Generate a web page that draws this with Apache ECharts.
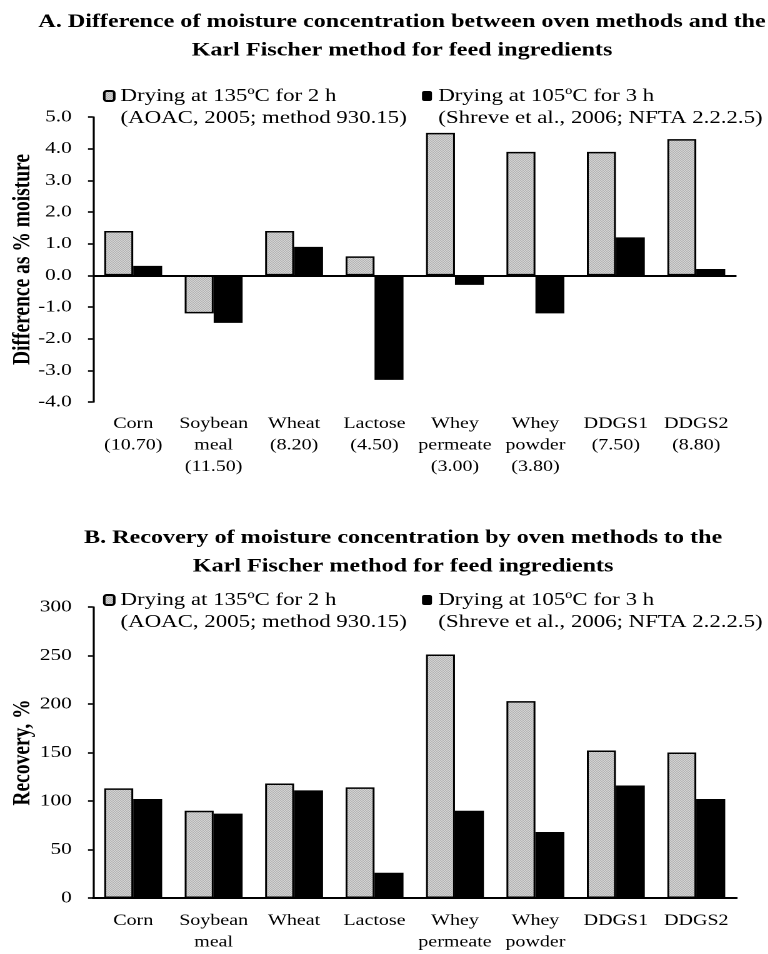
<!DOCTYPE html>
<html><head><meta charset="utf-8">
<script src="https://cdn.jsdelivr.net/npm/echarts@6/dist/echarts.min.js"></script>
<style>
html,body{margin:0;padding:0;background:#fff;overflow:hidden}
#main{width:614.4px;height:954px;transform:scaleX(1.25);transform-origin:0 0;}
</style>
</head><body><div id="main"></div>
<script>
const categoriesA = ['Corn\n(10.70)', 'Soybean\nmeal\n(11.50)', 'Wheat\n(8.20)', 'Lactose\n(4.50)', 'Whey\npermeate\n(3.00)', 'Whey\npowder\n(3.80)', 'DDGS1\n(7.50)', 'DDGS2\n(8.80)'];
const categoriesB = ['Corn', 'Soybean\nmeal', 'Wheat', 'Lactose', 'Whey\npermeate', 'Whey\npowder', 'DDGS1', 'DDGS2'];
const diff135 = [1.4, -1.2, 1.4, 0.6, 4.5, 3.9, 3.9, 4.3];
const diff105 = [0.3, -1.5, 0.9, -3.3, -0.3, -1.2, 1.2, 0.2];
const rec135 = [113, 90, 118, 114, 251, 203, 152, 150];
const rec105 = [102, 87, 111, 26, 90, 68, 116, 102];
const seriesNames = ['Drying at 135ºC for 2 h\n(AOAC, 2005; method 930.15)', 'Drying at 105ºC for 3 h\n(Shreve et al., 2006; NFTA 2.2.2.5)'];
const titleA = 'A. Difference of moisture concentration between oven methods and the\nKarl Fischer method for feed ingredients';
const titleB = 'B. Recovery of moisture concentration by oven methods to the\nKarl Fischer method for feed ingredients';
const yNameA = 'Difference as % moisture';
const yNameB = 'Recovery, %';

// dotted gray pattern
const pc = document.createElement('canvas');
pc.width = 2; pc.height = 2;
const pctx = pc.getContext('2d');
pctx.fillStyle = '#ffffff'; pctx.fillRect(0,0,2,2);
pctx.fillStyle = '#8a8a8a'; pctx.fillRect(0,0,1,1); pctx.fillRect(1,1,1,1);
const grayFill = {image: pc, repeat: 'repeat'};

const FONT = 'Liberation Serif';
const chart = echarts.init(document.getElementById('main'), null, {devicePixelRatio: 2});

function yAxisCommon(name){
  return {
    type: 'value', name: name, nameLocation: 'middle', nameGap: 46, nameMoveOverlap: false,
    nameTextStyle: {fontFamily: FONT, fontWeight: 'bold', fontSize: 19.5, color: '#000'},
    axisLine: {show: true, lineStyle: {color: '#000', width: 1.6}},
    axisTick: {show: true, length: 4, lineStyle: {color: '#000', width: 1.6}},
    axisLabel: {fontFamily: FONT, fontSize: 17, color: '#000', margin: 16},
    splitLine: {show: false}
  };
}
function legendItem(name, left, top){
  return {
    data: [name], left: left, top: top, padding: 0, orient: 'horizontal',
    itemWidth: 8, itemHeight: 10, selectedMode: false,
    formatter: n => '\n' + n,
    textStyle: {fontFamily: FONT, fontSize: 18.3, color: '#000', lineHeight: 22}
  };
}
const titleStyle = {fontFamily: FONT, fontWeight: 'bold', fontSize: 19.3, lineHeight: 28.5, color: '#000'};

const option = {
  backgroundColor: '#fff',
  animation: false,
  title: [
    {text: titleA, left: 321.6, top: 8, padding: 0, textAlign: 'center', textStyle: titleStyle},
    {text: titleB, left: 322.5, top: 524, padding: 0, textAlign: 'center', textStyle: titleStyle}
  ],
  legend: [
    legendItem(seriesNames[0], 82.4, 63),
    legendItem(seriesNames[1], 337.6, 63),
    legendItem(seriesNames[0], 82.4, 567),
    legendItem(seriesNames[1], 337.6, 567)
  ],
  grid: [
    {left: 74.4, right: 24.8, top: 117, height: 285, outerBoundsMode: 'none', containLabel: false},
    {left: 74.4, right: 24.8, top: 607, height: 291, outerBoundsMode: 'none', containLabel: false}
  ],
  xAxis: [
    {type: 'category', gridIndex: 0, data: categoriesA, position: 'bottom',
     axisLine: {show: false, onZero: false}, axisTick: {show: false},
     axisLabel: {fontFamily: FONT, fontSize: 16, color: '#000', lineHeight: 21.5, margin: 11, interval: 0}},
    {type: 'category', gridIndex: 1, data: categoriesB, position: 'bottom',
     axisLine: {show: true, lineStyle: {color: '#000', width: 2}}, axisTick: {show: false},
     axisLabel: {fontFamily: FONT, fontSize: 16, color: '#000', lineHeight: 21.5, margin: 12, interval: 0}}
  ],
  yAxis: [
    Object.assign(yAxisCommon(yNameA), {gridIndex: 0, min: -4, max: 5, interval: 1,
      axisLabel: {fontFamily: FONT, fontSize: 17, color: '#000', margin: 17, formatter: v => v.toFixed(1)}}),
    Object.assign(yAxisCommon(yNameB), {gridIndex: 1, min: 0, max: 300, interval: 50,
      axisLabel: {fontFamily: FONT, fontSize: 17, color: '#000', margin: 17}})
  ],
  series: [
    {name: seriesNames[0], type: 'bar', xAxisIndex: 0, yAxisIndex: 0, data: diff135,
     barGap: '0%', barCategoryGap: '28%',
     itemStyle: {color: grayFill, borderColor: '#000', borderWidth: 1.5},
     markLine: {silent: true, symbol: 'none', label: {show: false}, lineStyle: {color: '#000', width: 2, type: 'solid'}, data: [{yAxis: 0}]}},
    {name: seriesNames[1], type: 'bar', xAxisIndex: 0, yAxisIndex: 0, data: diff105,
     barGap: '0%', barCategoryGap: '28%',
     itemStyle: {color: '#000', borderColor: '#000', borderWidth: 0}},
    {name: seriesNames[0], type: 'bar', xAxisIndex: 1, yAxisIndex: 1, data: rec135,
     barGap: '0%', barCategoryGap: '28%',
     itemStyle: {color: grayFill, borderColor: '#000', borderWidth: 1.5}},
    {name: seriesNames[1], type: 'bar', xAxisIndex: 1, yAxisIndex: 1, data: rec105,
     barGap: '0%', barCategoryGap: '28%',
     itemStyle: {color: '#000', borderColor: '#000', borderWidth: 0}}
  ]
};
chart.setOption(option);
</script>
</body></html>
